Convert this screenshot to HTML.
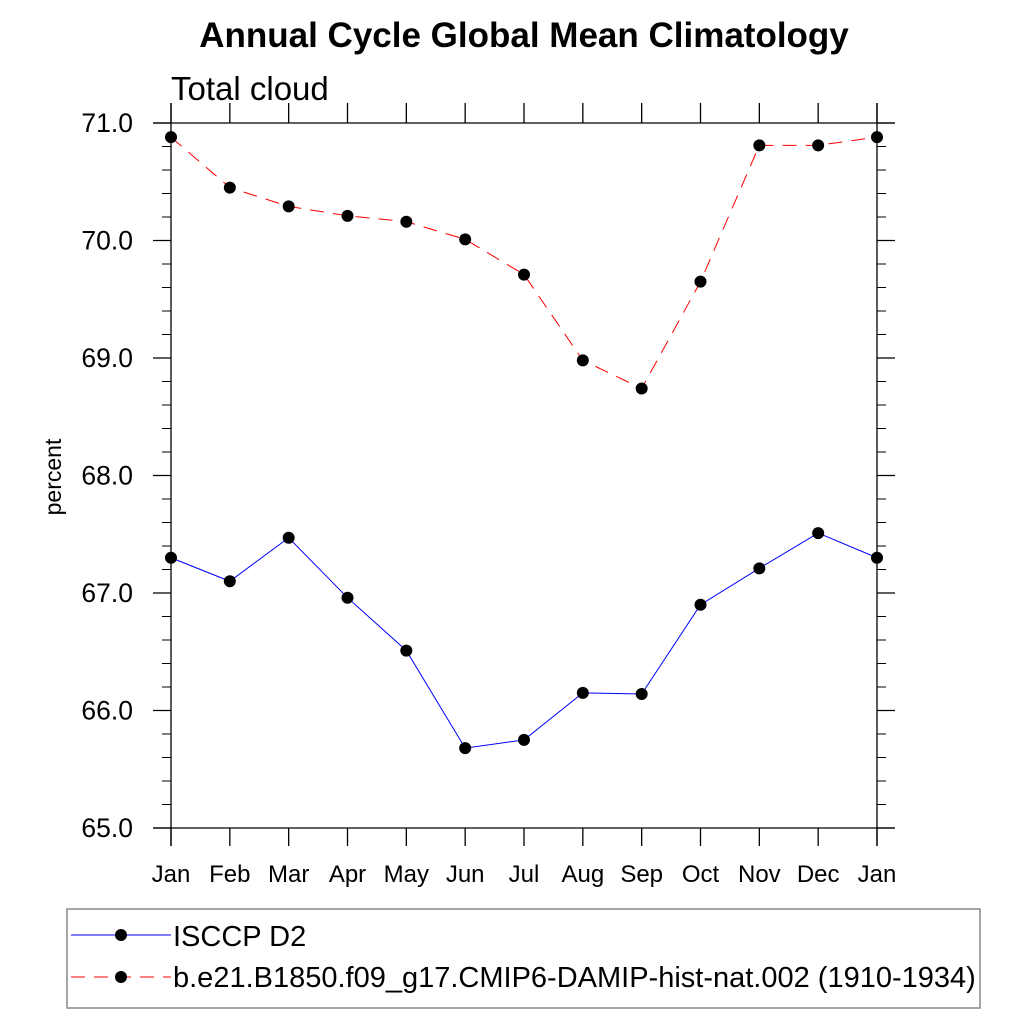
<!DOCTYPE html>
<html><head><meta charset="utf-8"><style>
html,body{margin:0;padding:0;background:#fff;}
svg text{font-family:"Liberation Sans",sans-serif;fill:#000;}
</style></head><body>
<svg id="chart" width="1024" height="1024" viewBox="0 0 1024 1024" xmlns="http://www.w3.org/2000/svg">
<text x="524" y="47" text-anchor="middle" font-size="35" font-weight="bold">Annual Cycle Global Mean Climatology</text>
<text x="171" y="100" font-size="33">Total cloud</text>
<text transform="translate(61,477) rotate(-90)" text-anchor="middle" font-size="23">percent</text>
<g id="axes"></g>
<g id="series"></g>
<g>
<rect x="67" y="909" width="913" height="99" fill="none" stroke="#888" stroke-width="1.5"/>
<g>
<line x1="71" y1="935" x2="171" y2="935" stroke="#0000ff" stroke-width="1"/>
<circle cx="121" cy="935" r="6" fill="#000"/>
<text x="173" y="946" font-size="29">ISCCP D2</text></g>
<g>
<line x1="71" y1="977" x2="171" y2="977" stroke="#ff0000" stroke-width="1" stroke-dasharray="14,9"/>
<circle cx="121" cy="977" r="6" fill="#000"/>
<text x="173" y="987" font-size="29">b.e21.B1850.f09_g17.CMIP6-DAMIP-hist-nat.002 (1910-1934)</text></g>
</g>
</svg>
<script>
const months=["Jan","Feb","Mar","Apr","May","Jun","Jul","Aug","Sep","Oct","Nov","Dec","Jan"];
const isccp=[67.30,67.10,67.47,66.96,66.51,65.68,65.75,66.15,66.14,66.90,67.21,67.51,67.30];
const model=[70.88,70.45,70.29,70.21,70.16,70.01,69.71,68.98,68.74,69.65,70.81,70.81,70.88];
const yTicks=[65,66,67,68,69,70,71];
const yTickLabels=["65.0","66.0","67.0","68.0","69.0","70.0","71.0"];
const NS="http://www.w3.org/2000/svg";
const X0=171,X1=877,Y0=828,Y1=123,YMIN=65,YMAX=71;
const xs=i=>X0+(X1-X0)*i/(months.length-1);
const ys=v=>Y0-(v-YMIN)/(YMAX-YMIN)*(Y0-Y1);
function mk(tag,attrs,parent){const e=document.createElementNS(NS,tag);for(const k in attrs)e.setAttribute(k,attrs[k]);parent.appendChild(e);return e;}
const ax=document.getElementById('axes');
const st={stroke:"#000","stroke-width":1.3};
let l;
l=mk('line',Object.assign({x1:153,y1:Y1,x2:895,y2:Y1},st),ax);


l=mk('line',Object.assign({x1:153,y1:Y0,x2:895,y2:Y0},st),ax);


l=mk('line',Object.assign({x1:X0,y1:103,x2:X0,y2:846},st),ax);


l=mk('line',Object.assign({x1:X1,y1:103,x2:X1,y2:846},st),ax);


months.forEach((m,i)=>{
  const x=xs(i);
  let t=mk('line',Object.assign({x1:x,y1:Y0,x2:x,y2:846},st),ax);
  
  
  t=mk('line',Object.assign({x1:x,y1:Y1,x2:x,y2:103},st),ax);
  
  
  const tx=mk('text',{x:x,y:882,"text-anchor":"middle","font-size":24},ax);
  tx.textContent=m;
  
  
});
yTicks.forEach((v,i)=>{
  const y=ys(v);
  let t=mk('line',Object.assign({x1:153,y1:y,x2:X0,y2:y},st),ax);
  
  
  t=mk('line',Object.assign({x1:X1,y1:y,x2:895,y2:y},st),ax);
  
  
  const tx=mk('text',{x:133,y:y+9,"text-anchor":"end","font-size":26.5},ax);
  tx.textContent=yTickLabels[i];
  
  
  if(i<yTicks.length-1){for(let k=1;k<5;k++){const yy=ys(v+k*0.2);
    t=mk('line',{x1:162,y1:yy,x2:X0,y2:yy,stroke:"#000","stroke-width":1},ax);
    
    
    t=mk('line',{x1:X1,y1:yy,x2:886,y2:yy,stroke:"#000","stroke-width":1},ax);
    
    }}
});
const sg=document.getElementById('series');
function drawSeries(vals,color,dash,name){
  const g=mk('g',{},sg);
  
  
  const p=mk('polyline',{points:vals.map((v,i)=>xs(i)+","+ys(v)).join(" "),fill:"none",stroke:color,"stroke-width":1,"stroke-dasharray":dash},g);
  
  
  vals.forEach((v,i)=>{const c=mk('circle',{cx:xs(i),cy:ys(v),r:6,fill:"#000"},g);
    
    });
}
drawSeries(isccp,"#0000ff","none","isccp-series");
drawSeries(model,"#ff0000","14,9","model-series");
</script>
</body></html>
